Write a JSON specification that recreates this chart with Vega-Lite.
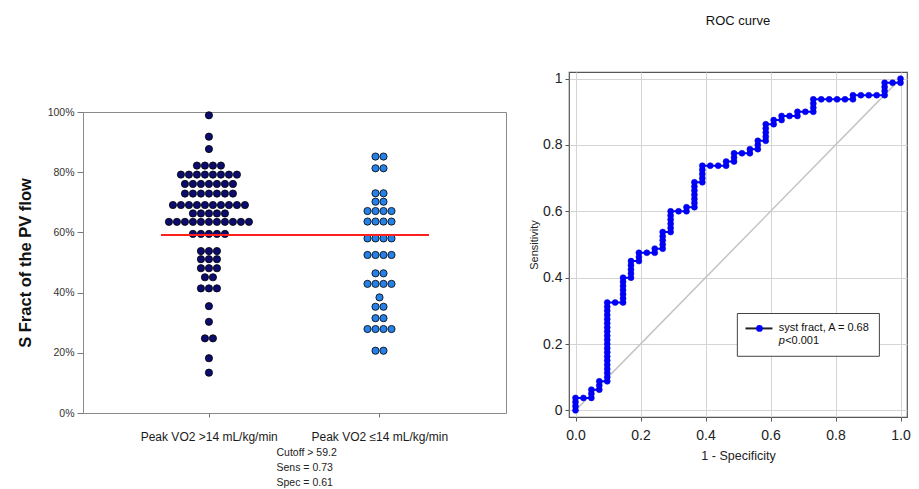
{
  "$schema": "https://vega.github.io/schema/vega-lite/v6.json",
  "padding": {"left": 16, "top": 14, "right": 2, "bottom": 0},
  "autosize": {"type": "pad"},
  "config": {"font": "Liberation Sans", "view": {"stroke": null}},
  "datasets": {
    "dots": [
      {"group": "Peak VO2 >14 mL/kg/min", "value": 98.9},
      {"group": "Peak VO2 >14 mL/kg/min", "value": 91.8},
      {"group": "Peak VO2 >14 mL/kg/min", "value": 87.7},
      {"group": "Peak VO2 >14 mL/kg/min", "value": 82.2},
      {"group": "Peak VO2 >14 mL/kg/min", "value": 82.2},
      {"group": "Peak VO2 >14 mL/kg/min", "value": 82.2},
      {"group": "Peak VO2 >14 mL/kg/min", "value": 82.2},
      {"group": "Peak VO2 >14 mL/kg/min", "value": 79.2},
      {"group": "Peak VO2 >14 mL/kg/min", "value": 79.2},
      {"group": "Peak VO2 >14 mL/kg/min", "value": 79.2},
      {"group": "Peak VO2 >14 mL/kg/min", "value": 79.2},
      {"group": "Peak VO2 >14 mL/kg/min", "value": 79.2},
      {"group": "Peak VO2 >14 mL/kg/min", "value": 79.2},
      {"group": "Peak VO2 >14 mL/kg/min", "value": 79.2},
      {"group": "Peak VO2 >14 mL/kg/min", "value": 79.2},
      {"group": "Peak VO2 >14 mL/kg/min", "value": 76.1},
      {"group": "Peak VO2 >14 mL/kg/min", "value": 76.1},
      {"group": "Peak VO2 >14 mL/kg/min", "value": 76.1},
      {"group": "Peak VO2 >14 mL/kg/min", "value": 76.1},
      {"group": "Peak VO2 >14 mL/kg/min", "value": 76.1},
      {"group": "Peak VO2 >14 mL/kg/min", "value": 76.1},
      {"group": "Peak VO2 >14 mL/kg/min", "value": 76.1},
      {"group": "Peak VO2 >14 mL/kg/min", "value": 72.9},
      {"group": "Peak VO2 >14 mL/kg/min", "value": 72.9},
      {"group": "Peak VO2 >14 mL/kg/min", "value": 72.9},
      {"group": "Peak VO2 >14 mL/kg/min", "value": 72.9},
      {"group": "Peak VO2 >14 mL/kg/min", "value": 72.9},
      {"group": "Peak VO2 >14 mL/kg/min", "value": 72.9},
      {"group": "Peak VO2 >14 mL/kg/min", "value": 72.9},
      {"group": "Peak VO2 >14 mL/kg/min", "value": 69.1},
      {"group": "Peak VO2 >14 mL/kg/min", "value": 69.1},
      {"group": "Peak VO2 >14 mL/kg/min", "value": 69.1},
      {"group": "Peak VO2 >14 mL/kg/min", "value": 69.1},
      {"group": "Peak VO2 >14 mL/kg/min", "value": 69.1},
      {"group": "Peak VO2 >14 mL/kg/min", "value": 69.1},
      {"group": "Peak VO2 >14 mL/kg/min", "value": 69.1},
      {"group": "Peak VO2 >14 mL/kg/min", "value": 69.1},
      {"group": "Peak VO2 >14 mL/kg/min", "value": 69.1},
      {"group": "Peak VO2 >14 mL/kg/min", "value": 69.1},
      {"group": "Peak VO2 >14 mL/kg/min", "value": 66.3},
      {"group": "Peak VO2 >14 mL/kg/min", "value": 66.3},
      {"group": "Peak VO2 >14 mL/kg/min", "value": 66.3},
      {"group": "Peak VO2 >14 mL/kg/min", "value": 66.3},
      {"group": "Peak VO2 >14 mL/kg/min", "value": 66.3},
      {"group": "Peak VO2 >14 mL/kg/min", "value": 63.5},
      {"group": "Peak VO2 >14 mL/kg/min", "value": 63.5},
      {"group": "Peak VO2 >14 mL/kg/min", "value": 63.5},
      {"group": "Peak VO2 >14 mL/kg/min", "value": 63.5},
      {"group": "Peak VO2 >14 mL/kg/min", "value": 63.5},
      {"group": "Peak VO2 >14 mL/kg/min", "value": 63.5},
      {"group": "Peak VO2 >14 mL/kg/min", "value": 63.5},
      {"group": "Peak VO2 >14 mL/kg/min", "value": 63.5},
      {"group": "Peak VO2 >14 mL/kg/min", "value": 63.5},
      {"group": "Peak VO2 >14 mL/kg/min", "value": 63.5},
      {"group": "Peak VO2 >14 mL/kg/min", "value": 63.5},
      {"group": "Peak VO2 >14 mL/kg/min", "value": 59.5},
      {"group": "Peak VO2 >14 mL/kg/min", "value": 59.5},
      {"group": "Peak VO2 >14 mL/kg/min", "value": 59.5},
      {"group": "Peak VO2 >14 mL/kg/min", "value": 59.5},
      {"group": "Peak VO2 >14 mL/kg/min", "value": 59.5},
      {"group": "Peak VO2 >14 mL/kg/min", "value": 53.8},
      {"group": "Peak VO2 >14 mL/kg/min", "value": 53.8},
      {"group": "Peak VO2 >14 mL/kg/min", "value": 53.8},
      {"group": "Peak VO2 >14 mL/kg/min", "value": 51.1},
      {"group": "Peak VO2 >14 mL/kg/min", "value": 51.1},
      {"group": "Peak VO2 >14 mL/kg/min", "value": 51.1},
      {"group": "Peak VO2 >14 mL/kg/min", "value": 48.1},
      {"group": "Peak VO2 >14 mL/kg/min", "value": 48.1},
      {"group": "Peak VO2 >14 mL/kg/min", "value": 48.1},
      {"group": "Peak VO2 >14 mL/kg/min", "value": 45.1},
      {"group": "Peak VO2 >14 mL/kg/min", "value": 45.1},
      {"group": "Peak VO2 >14 mL/kg/min", "value": 41.4},
      {"group": "Peak VO2 >14 mL/kg/min", "value": 41.4},
      {"group": "Peak VO2 >14 mL/kg/min", "value": 41.4},
      {"group": "Peak VO2 >14 mL/kg/min", "value": 35.5},
      {"group": "Peak VO2 >14 mL/kg/min", "value": 30.3},
      {"group": "Peak VO2 >14 mL/kg/min", "value": 24.8},
      {"group": "Peak VO2 >14 mL/kg/min", "value": 24.8},
      {"group": "Peak VO2 >14 mL/kg/min", "value": 18.2},
      {"group": "Peak VO2 >14 mL/kg/min", "value": 13.4},
      {"group": "Peak VO2 ≤14 mL/kg/min", "value": 85.2},
      {"group": "Peak VO2 ≤14 mL/kg/min", "value": 85.2},
      {"group": "Peak VO2 ≤14 mL/kg/min", "value": 81.3},
      {"group": "Peak VO2 ≤14 mL/kg/min", "value": 81.3},
      {"group": "Peak VO2 ≤14 mL/kg/min", "value": 73.0},
      {"group": "Peak VO2 ≤14 mL/kg/min", "value": 73.0},
      {"group": "Peak VO2 ≤14 mL/kg/min", "value": 70.2},
      {"group": "Peak VO2 ≤14 mL/kg/min", "value": 70.2},
      {"group": "Peak VO2 ≤14 mL/kg/min", "value": 67.1},
      {"group": "Peak VO2 ≤14 mL/kg/min", "value": 67.1},
      {"group": "Peak VO2 ≤14 mL/kg/min", "value": 67.1},
      {"group": "Peak VO2 ≤14 mL/kg/min", "value": 67.1},
      {"group": "Peak VO2 ≤14 mL/kg/min", "value": 63.6},
      {"group": "Peak VO2 ≤14 mL/kg/min", "value": 63.6},
      {"group": "Peak VO2 ≤14 mL/kg/min", "value": 63.6},
      {"group": "Peak VO2 ≤14 mL/kg/min", "value": 63.6},
      {"group": "Peak VO2 ≤14 mL/kg/min", "value": 58.0},
      {"group": "Peak VO2 ≤14 mL/kg/min", "value": 58.0},
      {"group": "Peak VO2 ≤14 mL/kg/min", "value": 58.0},
      {"group": "Peak VO2 ≤14 mL/kg/min", "value": 58.0},
      {"group": "Peak VO2 ≤14 mL/kg/min", "value": 52.5},
      {"group": "Peak VO2 ≤14 mL/kg/min", "value": 52.5},
      {"group": "Peak VO2 ≤14 mL/kg/min", "value": 52.5},
      {"group": "Peak VO2 ≤14 mL/kg/min", "value": 52.5},
      {"group": "Peak VO2 ≤14 mL/kg/min", "value": 46.4},
      {"group": "Peak VO2 ≤14 mL/kg/min", "value": 46.4},
      {"group": "Peak VO2 ≤14 mL/kg/min", "value": 42.9},
      {"group": "Peak VO2 ≤14 mL/kg/min", "value": 42.9},
      {"group": "Peak VO2 ≤14 mL/kg/min", "value": 42.9},
      {"group": "Peak VO2 ≤14 mL/kg/min", "value": 42.9},
      {"group": "Peak VO2 ≤14 mL/kg/min", "value": 38.4},
      {"group": "Peak VO2 ≤14 mL/kg/min", "value": 35.3},
      {"group": "Peak VO2 ≤14 mL/kg/min", "value": 35.3},
      {"group": "Peak VO2 ≤14 mL/kg/min", "value": 31.5},
      {"group": "Peak VO2 ≤14 mL/kg/min", "value": 31.5},
      {"group": "Peak VO2 ≤14 mL/kg/min", "value": 27.9},
      {"group": "Peak VO2 ≤14 mL/kg/min", "value": 27.9},
      {"group": "Peak VO2 ≤14 mL/kg/min", "value": 27.9},
      {"group": "Peak VO2 ≤14 mL/kg/min", "value": 27.9},
      {"group": "Peak VO2 ≤14 mL/kg/min", "value": 20.7},
      {"group": "Peak VO2 ≤14 mL/kg/min", "value": 20.7}
    ],
    "roc": [
      {"fpr": 0, "tpr": 0}, {"fpr": 0, "tpr": 0.0125}, {"fpr": 0, "tpr": 0.025}, {"fpr": 0, "tpr": 0.0375},
      {"fpr": 0.0244, "tpr": 0.0375},
      {"fpr": 0.0488, "tpr": 0.0375}, {"fpr": 0.0488, "tpr": 0.05}, {"fpr": 0.0488, "tpr": 0.0625},
      {"fpr": 0.0732, "tpr": 0.0625}, {"fpr": 0.0732, "tpr": 0.075}, {"fpr": 0.0732, "tpr": 0.0875},
      {"fpr": 0.0976, "tpr": 0.0875}, {"fpr": 0.0976, "tpr": 0.1}, {"fpr": 0.0976, "tpr": 0.1125}, {"fpr": 0.0976, "tpr": 0.125},
      {"fpr": 0.0976, "tpr": 0.1375}, {"fpr": 0.0976, "tpr": 0.15}, {"fpr": 0.0976, "tpr": 0.1625}, {"fpr": 0.0976, "tpr": 0.175},
      {"fpr": 0.0976, "tpr": 0.1875}, {"fpr": 0.0976, "tpr": 0.2}, {"fpr": 0.0976, "tpr": 0.2125}, {"fpr": 0.0976, "tpr": 0.225},
      {"fpr": 0.0976, "tpr": 0.2375}, {"fpr": 0.0976, "tpr": 0.25}, {"fpr": 0.0976, "tpr": 0.2625}, {"fpr": 0.0976, "tpr": 0.275},
      {"fpr": 0.0976, "tpr": 0.2875}, {"fpr": 0.0976, "tpr": 0.3}, {"fpr": 0.0976, "tpr": 0.3125}, {"fpr": 0.0976, "tpr": 0.325},
      {"fpr": 0.122, "tpr": 0.325},
      {"fpr": 0.1463, "tpr": 0.325}, {"fpr": 0.1463, "tpr": 0.3375}, {"fpr": 0.1463, "tpr": 0.35}, {"fpr": 0.1463, "tpr": 0.3625},
      {"fpr": 0.1463, "tpr": 0.375}, {"fpr": 0.1463, "tpr": 0.3875}, {"fpr": 0.1463, "tpr": 0.4},
      {"fpr": 0.1707, "tpr": 0.4}, {"fpr": 0.1707, "tpr": 0.4125}, {"fpr": 0.1707, "tpr": 0.425}, {"fpr": 0.1707, "tpr": 0.4375}, {"fpr": 0.1707, "tpr": 0.45},
      {"fpr": 0.1951, "tpr": 0.45}, {"fpr": 0.1951, "tpr": 0.4625}, {"fpr": 0.1951, "tpr": 0.475},
      {"fpr": 0.2195, "tpr": 0.475},
      {"fpr": 0.2439, "tpr": 0.475}, {"fpr": 0.2439, "tpr": 0.4875},
      {"fpr": 0.2683, "tpr": 0.4875}, {"fpr": 0.2683, "tpr": 0.5}, {"fpr": 0.2683, "tpr": 0.5125}, {"fpr": 0.2683, "tpr": 0.525}, {"fpr": 0.2683, "tpr": 0.5375},
      {"fpr": 0.2927, "tpr": 0.5375}, {"fpr": 0.2927, "tpr": 0.55}, {"fpr": 0.2927, "tpr": 0.5625}, {"fpr": 0.2927, "tpr": 0.575}, {"fpr": 0.2927, "tpr": 0.5875}, {"fpr": 0.2927, "tpr": 0.6},
      {"fpr": 0.3171, "tpr": 0.6},
      {"fpr": 0.3415, "tpr": 0.6}, {"fpr": 0.3415, "tpr": 0.6125},
      {"fpr": 0.3659, "tpr": 0.6125}, {"fpr": 0.3659, "tpr": 0.625}, {"fpr": 0.3659, "tpr": 0.6375}, {"fpr": 0.3659, "tpr": 0.65}, {"fpr": 0.3659, "tpr": 0.6625}, {"fpr": 0.3659, "tpr": 0.675}, {"fpr": 0.3659, "tpr": 0.6875},
      {"fpr": 0.3902, "tpr": 0.6875}, {"fpr": 0.3902, "tpr": 0.7}, {"fpr": 0.3902, "tpr": 0.7125}, {"fpr": 0.3902, "tpr": 0.725}, {"fpr": 0.3902, "tpr": 0.7375},
      {"fpr": 0.4146, "tpr": 0.7375},
      {"fpr": 0.439, "tpr": 0.7375},
      {"fpr": 0.4634, "tpr": 0.7375}, {"fpr": 0.4634, "tpr": 0.75},
      {"fpr": 0.4878, "tpr": 0.75}, {"fpr": 0.4878, "tpr": 0.7625}, {"fpr": 0.4878, "tpr": 0.775},
      {"fpr": 0.5122, "tpr": 0.775},
      {"fpr": 0.5366, "tpr": 0.775}, {"fpr": 0.5366, "tpr": 0.7875},
      {"fpr": 0.561, "tpr": 0.7875}, {"fpr": 0.561, "tpr": 0.8}, {"fpr": 0.561, "tpr": 0.8125},
      {"fpr": 0.5854, "tpr": 0.8125}, {"fpr": 0.5854, "tpr": 0.825}, {"fpr": 0.5854, "tpr": 0.8375}, {"fpr": 0.5854, "tpr": 0.85}, {"fpr": 0.5854, "tpr": 0.8625},
      {"fpr": 0.6098, "tpr": 0.8625}, {"fpr": 0.6098, "tpr": 0.875},
      {"fpr": 0.6341, "tpr": 0.875}, {"fpr": 0.6341, "tpr": 0.8875},
      {"fpr": 0.6585, "tpr": 0.8875},
      {"fpr": 0.6829, "tpr": 0.8875}, {"fpr": 0.6829, "tpr": 0.9},
      {"fpr": 0.7073, "tpr": 0.9},
      {"fpr": 0.7317, "tpr": 0.9}, {"fpr": 0.7317, "tpr": 0.9125}, {"fpr": 0.7317, "tpr": 0.925}, {"fpr": 0.7317, "tpr": 0.9375},
      {"fpr": 0.7561, "tpr": 0.9375},
      {"fpr": 0.7805, "tpr": 0.9375},
      {"fpr": 0.8049, "tpr": 0.9375},
      {"fpr": 0.8293, "tpr": 0.9375},
      {"fpr": 0.8537, "tpr": 0.9375}, {"fpr": 0.8537, "tpr": 0.95},
      {"fpr": 0.878, "tpr": 0.95},
      {"fpr": 0.9024, "tpr": 0.95},
      {"fpr": 0.9268, "tpr": 0.95},
      {"fpr": 0.9512, "tpr": 0.95}, {"fpr": 0.9512, "tpr": 0.9625}, {"fpr": 0.9512, "tpr": 0.975}, {"fpr": 0.9512, "tpr": 0.9875},
      {"fpr": 0.9756, "tpr": 0.9875},
      {"fpr": 1, "tpr": 0.9875}, {"fpr": 1, "tpr": 1}
    ]
  },
  "spacing": 20,
  "hconcat": [
    {
      "spacing": 0,
      "vconcat": [
        {
          "width": 423,
          "height": 34,
          "data": {"values": []},
          "mark": "point",
          "encoding": {}
        },
        {
          "width": 423,
          "height": 301,
          "view": {"stroke": "#8a8a8a", "strokeWidth": 1},
          "data": {"name": "dots"},
          "layer": [
            {
              "transform": [
                {"window": [{"op": "row_number", "as": "idx"}, {"op": "count", "as": "n"}], "groupby": ["group", "value"], "frame": [null, null]},
                {"calculate": "datum.idx - (datum.n + 1) / 2", "as": "slot"}
              ],
              "mark": {"type": "circle", "size": 52, "opacity": 1, "stroke": "#000000", "strokeWidth": 0.8},
              "encoding": {
                "x": {
                  "field": "group", "type": "nominal",
                  "sort": ["Peak VO2 >14 mL/kg/min", "Peak VO2 ≤14 mL/kg/min"],
                  "scale": {"paddingInner": 0, "paddingOuter": 0.24},
                  "axis": {
                    "title": ["Cutoff > 59.2", "Sens = 0.73", "Spec = 0.61"],
                    "titleFontSize": 10.5, "titleFontWeight": "normal", "titleColor": "#222",
                    "titleLineHeight": 15, "titleAlign": "left", "titleBaseline": "top",
                    "titleX": 193, "titleY": 34,
                    "labelAngle": 0, "labelFontSize": 12, "labelColor": "#1a1a1a", "labelPadding": 14,
                    "tickSize": 4, "tickColor": "#777", "domain": false
                  }
                },
                "xOffset": {"field": "slot", "type": "quantitative", "scale": {"domain": [-10.625, 10.625], "range": [0, 170]}},
                "y": {
                  "field": "value", "type": "quantitative",
                  "scale": {"domain": [0, 100], "nice": false},
                  "axis": {
                    "values": [0, 20, 40, 60, 80, 100], "labelExpr": "datum.value + '%'",
                    "title": "S Fract of the PV flow", "titleFontSize": 16.5, "titleFontWeight": "bold", "titleColor": "#111",
                    "titlePadding": 14,
                    "labelFontSize": 10.5, "labelColor": "#333", "labelPadding": 3,
                    "tickSize": 6, "tickColor": "#777", "domain": false, "grid": false
                  }
                },
                "color": {
                  "field": "group", "type": "nominal",
                  "scale": {"domain": ["Peak VO2 >14 mL/kg/min", "Peak VO2 ≤14 mL/kg/min"], "range": ["#0c0c6e", "#2680e6"]},
                  "legend": null
                }
              }
            },
            {
              "mark": {"type": "rule", "color": "#ff2020", "strokeWidth": 1.5, "xOffset": -48, "x2Offset": 49},
              "encoding": {
                "x": {"datum": "Peak VO2 >14 mL/kg/min"},
                "x2": {"datum": "Peak VO2 ≤14 mL/kg/min"},
                "y": {"datum": 59.2}
              }
            }
          ]
        }
      ]
    },
    {
      "width": 338,
      "height": 345,
      "title": {"text": "ROC curve", "fontSize": 13, "fontWeight": "normal", "color": "#111", "offset": 44},
      "view": {"stroke": "#555555", "strokeWidth": 1.2},
      "data": {"values": [{}]},
      "layer": [
        {
          "mark": {"type": "rule", "color": "#c4c4c4", "strokeWidth": 1.5},
          "encoding": {"x": {"datum": 0}, "y": {"datum": 0}, "x2": {"datum": 1}, "y2": {"datum": 1}}
        },
        {
          "data": {"name": "roc"},
          "mark": {"type": "line", "color": "#0000ff", "strokeWidth": 2},
          "encoding": {
            "x": {
              "field": "fpr", "type": "quantitative",
              "scale": {"domain": [-0.02, 1.02], "nice": false, "zero": false},
              "axis": {
                "values": [0, 0.2, 0.4, 0.6, 0.8, 1], "format": ".1f",
                "title": "1 - Specificity", "titleFontSize": 12.5, "titleFontWeight": "normal", "titleColor": "#222", "titlePadding": 7,
                "labelFontSize": 14, "labelColor": "#222", "labelPadding": 7,
                "tickSize": 4, "tickColor": "#555", "domain": false, "grid": true, "gridColor": "#d4d4d4"
              }
            },
            "y": {
              "field": "tpr", "type": "quantitative",
              "scale": {"domain": [-0.02, 1.02], "nice": false, "zero": false},
              "axis": {
                "values": [0, 0.2, 0.4, 0.6, 0.8, 1], "format": "~g",
                "title": "Sensitivity", "titleFontSize": 11, "titleFontWeight": "normal", "titleColor": "#222", "titlePadding": 3,
                "labelFontSize": 14, "labelColor": "#222", "labelPadding": 3,
                "tickSize": 4, "tickColor": "#555", "domain": false, "grid": true, "gridColor": "#d4d4d4"
              }
            },
            "order": {"value": null}
          }
        },
        {
          "data": {"name": "roc"},
          "mark": {"type": "circle", "size": 36, "color": "#0000ff", "opacity": 1, "stroke": "#0000cc", "strokeWidth": 0.5},
          "encoding": {
            "x": {"field": "fpr", "type": "quantitative"},
            "y": {"field": "tpr", "type": "quantitative"}
          }
        },
        {
          "mark": {"type": "rect", "fill": "#ffffff", "stroke": "#444444", "strokeWidth": 1},
          "encoding": {"x": {"datum": 0.498}, "x2": {"datum": 0.935}, "y": {"datum": 0.292}, "y2": {"datum": 0.163}}
        },
        {
          "mark": {"type": "rule", "color": "#222222", "strokeWidth": 2},
          "encoding": {"x": {"datum": 0.523}, "x2": {"datum": 0.606}, "y": {"datum": 0.247}}
        },
        {
          "mark": {"type": "circle", "size": 45, "color": "#0000ff", "opacity": 1},
          "encoding": {"x": {"datum": 0.566}, "y": {"datum": 0.247}}
        },
        {
          "mark": {"type": "text", "align": "left", "baseline": "middle", "fontSize": 11, "color": "#111", "text": "syst fract, A = 0.68"},
          "encoding": {"x": {"datum": 0.625}, "y": {"datum": 0.247}}
        },
        {
          "mark": {"type": "text", "align": "left", "baseline": "middle", "fontSize": 11, "fontStyle": "italic", "color": "#111", "text": "p"},
          "encoding": {"x": {"datum": 0.625}, "y": {"datum": 0.208}}
        },
        {
          "mark": {"type": "text", "align": "left", "baseline": "middle", "fontSize": 11, "color": "#111", "text": "<0.001", "dx": 6.5},
          "encoding": {"x": {"datum": 0.625}, "y": {"datum": 0.208}}
        }
      ]
    }
  ]
}
